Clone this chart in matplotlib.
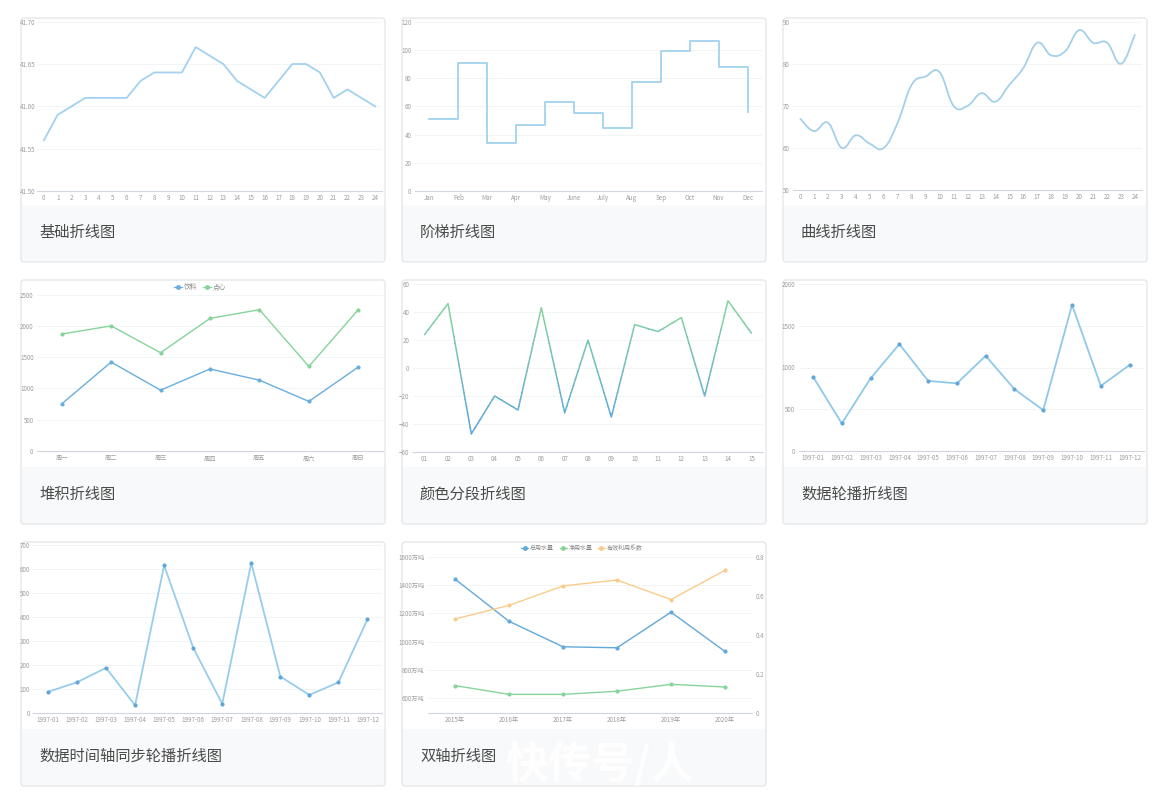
import numpy as np
import matplotlib
matplotlib.use('Agg')
import matplotlib.pyplot as plt
from matplotlib.patches import FancyBboxPatch, Rectangle, PathPatch
from matplotlib.path import Path
from matplotlib.lines import Line2D
from matplotlib.transforms import Bbox, TransformedBbox
from matplotlib.colors import to_rgb

plt.rcParams['font.family'] = ['Noto Sans CJK SC', 'DejaVu Sans']

W, H = 1162, 798

# ---------------- data ----------------
titles = ['基础折线图', '阶梯折线图', '曲线折线图',
          '堆积折线图', '颜色分段折线图', '数据轮播折线图',
          '数据时间轴同步轮播折线图', '双轴折线图']

basic_x = [str(i) for i in range(25)]
basic_y = [41.56, 41.59, 41.60, 41.61, 41.61, 41.61, 41.61, 41.63, 41.64, 41.64,
           41.64, 41.67, 41.66, 41.65, 41.63, 41.62, 41.61, 41.63, 41.65, 41.65,
           41.64, 41.61, 41.62, 41.61, 41.60]

step_x = ['Jan', 'Feb', 'Mar', 'Apr', 'May', 'June', 'July', 'Aug', 'Sep', 'Oct', 'Nov', 'Dec']
step_y = [51, 91, 34, 47, 63, 55, 45, 77, 99, 106, 88, 56]

curve_x = [str(i) for i in range(25)]
curve_y = [67, 64, 66, 60, 63, 61, 60, 66, 75, 77, 78, 70, 70, 73, 71, 75, 79, 85,
           82, 83, 88, 85, 85, 80, 87]

stack_x = ['周一', '周二', '周三', '周四', '周五', '周六', '周日']
stack_drink = [750, 1420, 970, 1310, 1130, 790, 1340]
stack_snack = [1120, 580, 600, 810, 1130, 560, 920]
stack_names = ['饮料', '点心']

seg_x = ['%02d' % i for i in range(1, 16)]
seg_y = [24, 46, -47, -20, -30, 43, -32, 20, -35, 31, 26, 36, -20, 48, 25]

months = ['1997-%02d' % i for i in range(1, 13)]
carousel_y = [890, 330, 870, 1280, 840, 810, 1140, 740, 490, 1750, 780, 1030]
timeline_y = [88, 128, 188, 32, 615, 272, 38, 625, 152, 75, 128, 390]

dual_x = ['2015年', '2016年', '2017年', '2018年', '2019年', '2020年']
dual_total = [1442, 1144, 964, 957, 1208, 931]
dual_net = [690, 628, 628, 650, 699, 680]
dual_coef = [0.48, 0.55, 0.65, 0.68, 0.58, 0.73]
dual_names = ['总用水量', '净用水量', '有效利用系数']

# ---------------- figure ----------------
fig = plt.figure(figsize=(W / 100, H / 100), dpi=100)
fig.patch.set_facecolor('white')
bg = fig.add_axes([0, 0, 1, 1])
bg.set_xlim(0, W)
bg.set_ylim(H, 0)
bg.axis('off')

card_xs = [21, 402, 783]
card_ys = [18, 280, 542]
CW, CH = 364, 244
FOOT = 187

for k, t in enumerate(titles):
    cx = card_xs[k % 3]
    cy = card_ys[k // 3]
    bg.add_patch(Rectangle((cx, cy), CW, CH, facecolor='white', edgecolor='none'))
    bg.add_patch(Rectangle((cx, cy + FOOT), CW, CH - FOOT, facecolor='#f8f9fa', edgecolor='none'))
    bg.add_patch(FancyBboxPatch((cx, cy), CW, CH, boxstyle='round,pad=0,rounding_size=3',
                                facecolor='none', edgecolor='#e3e5e8', linewidth=0.9))
    bg.text(cx + 18, cy + 214, t, fontsize=11, color='#4a4a4a', va='center', ha='left')

TICK_FS = 4.5


def make_ax(x0, y0, x1, y1):
    ax = fig.add_axes([x0 / W, 1 - y1 / H, (x1 - x0) / W, (y1 - y0) / H])
    ax.patch.set_alpha(0)
    for s in ['top', 'right', 'left']:
        ax.spines[s].set_visible(False)
    ax.spines['bottom'].set_color('#d0d6de')
    ax.spines['bottom'].set_linewidth(0.8)
    ax.tick_params(axis='both', length=0, labelsize=TICK_FS, labelcolor='#9d9d9d', pad=2.5)
    ax.grid(axis='y', color='#f1f2f4', linewidth=0.6)
    ax.set_axisbelow(True)
    return ax


def set_cat(ax, labels):
    n = len(labels)
    ax.set_xticks(range(n))
    ax.set_xticklabels(labels)
    ax.set_xlim(-0.5, n - 0.5)


def smooth_path(xs, ys, k=0.2):
    P = np.column_stack([xs, ys]).astype(float)
    n = len(P)
    verts = [tuple(P[0])]
    codes = [Path.MOVETO]
    for i in range(n - 1):
        p0 = P[max(i - 1, 0)]
        p1 = P[i]
        p2 = P[i + 1]
        p3 = P[min(i + 2, n - 1)]
        c1 = p1 + (p2 - p0) * k
        c2 = p2 - (p3 - p1) * k
        verts += [tuple(c1), tuple(c2), tuple(p2)]
        codes += [Path.CURVE4] * 3
    return Path(verts, codes)


light_blue = '#a2d2ef'

# 1 basic
ax = make_ax(37, 21.7, 382, 191)
set_cat(ax, basic_x)
ax.plot(range(len(basic_y)), basic_y, color=light_blue, lw=1.3)
ax.set_ylim(41.50, 41.70)
ax.set_yticks(np.arange(41.50, 41.701, 0.05))
ax.set_yticklabels(['%.2f' % v for v in np.arange(41.50, 41.701, 0.05)])
ax.tick_params(axis='y', pad=1)

# 2 step
ax = make_ax(415, 21.7, 762, 191)
set_cat(ax, step_x)
ax.plot(range(len(step_y)), step_y, color=light_blue, lw=1.3, drawstyle='steps-post')
ax.set_ylim(0, 120)
ax.set_yticks(range(0, 121, 20))

# 3 curve
ax = make_ax(793, 21.7, 1142, 190)
set_cat(ax, curve_x)
ax.add_patch(PathPatch(smooth_path(range(len(curve_y)), curve_y), facecolor='none',
                       edgecolor='#a4d0ea', lw=1.3))
ax.set_ylim(50, 90)
ax.set_yticks(range(50, 91, 10))

# 4 stacked
ax = make_ax(37, 294.7, 383, 450.7)
set_cat(ax, stack_x)
c_blue, c_green = '#6aaedb', '#86d49a'
top = np.array(stack_drink) + np.array(stack_snack)
ax.plot(range(7), stack_drink, color=c_blue, lw=1.0, marker='o', ms=2, mfc=c_blue, mec=c_blue)
ax.plot(range(7), top, color=c_green, lw=1.0, marker='o', ms=2, mfc=c_green, mec=c_green)
ax.set_ylim(0, 2500)
ax.set_yticks(range(0, 2501, 500))
handles = [Line2D([], [], color=c, marker='o', ms=2.5, lw=0.9) for c in (c_blue, c_green)]
ax.legend(handles, stack_names, loc='center', bbox_to_anchor=(200 / W, 1 - 287 / H),
          bbox_transform=fig.transFigure, ncol=2, frameon=False, fontsize=4.8,
          handlelength=1.2, handletextpad=0.3, columnspacing=0.9, labelcolor='#888888')

# 5 color segments
ax = make_ax(413, 284, 763, 452)
set_cat(ax, seg_x)
ax.set_ylim(-60, 60)
ax.set_yticks(range(-60, 61, 20))
cb = np.array(to_rgb('#5ea7da'))
cg = np.array(to_rgb('#86d3a2'))
edges = np.linspace(-60, 60, 49)
for lo, hi in zip(edges[:-1], edges[1:]):
    mid = (lo + hi) / 2
    f = np.clip((mid + 40) / 80, 0, 1)
    col = cb * (1 - f) + cg * f
    ln, = ax.plot(range(len(seg_y)), seg_y, color=col, lw=1.1)
    ln.set_clip_box(TransformedBbox(Bbox([[-0.5, lo - 0.2], [len(seg_y) - 0.5, hi + 0.2]]), ax.transData))

# 6 carousel
ax = make_ax(798.6, 284, 1144, 451)
set_cat(ax, months)
ax.plot(range(12), carousel_y, color='#8fc9ea', lw=1.3, marker='o', ms=2.0, mfc='#62a6d8', mec='#62a6d8')
ax.set_ylim(0, 2000)
ax.set_yticks(range(0, 2001, 500))

# 7 timeline
ax = make_ax(33.4, 545, 382, 713)
set_cat(ax, months)
ax.plot(range(12), timeline_y, color='#97cdec', lw=1.3, marker='o', ms=2.0, mfc='#62a6d8', mec='#62a6d8')
ax.set_ylim(0, 700)
ax.set_yticks(range(0, 701, 100))

# 8 dual axis
ax = make_ax(428, 556.7, 752, 712.5)
set_cat(ax, dual_x)
ax.set_ylim(500, 1600)
ax.set_yticks(range(600, 1601, 200))
ax.set_yticklabels(['%d万吨' % v for v in range(600, 1601, 200)])
ax2 = ax.twinx()
for s in ax2.spines.values():
    s.set_visible(False)
ax2.set_ylim(0, 0.8)
ax2.set_yticks([0, 0.2, 0.4, 0.6, 0.8])
ax2.set_yticklabels(['0', '0.2', '0.4', '0.6', '0.8'])
ax2.tick_params(axis='y', length=0, labelsize=TICK_FS, labelcolor='#9d9d9d', pad=2.5)
d_blue, d_green, d_orange = '#62a9d9', '#86d49a', '#f8cd8c'
ax.plot(range(6), dual_total, color=d_blue, lw=1.0, marker='o', ms=2, mfc=d_blue, mec=d_blue)
ax.plot(range(6), dual_net, color=d_green, lw=1.0, marker='o', ms=2, mfc=d_green, mec=d_green)
ax2.plot(range(6), dual_coef, color=d_orange, lw=1.0, marker='o', ms=2, mfc=d_orange, mec=d_orange)
handles = [Line2D([], [], color=c, marker='o', ms=2.5, lw=0.9) for c in (d_blue, d_green, d_orange)]
ax.legend(handles, dual_names, loc='center', bbox_to_anchor=(582 / W, 1 - 548 / H),
          bbox_transform=fig.transFigure, ncol=3, frameon=False, fontsize=4.3,
          handlelength=1.2, handletextpad=0.3, columnspacing=0.9, labelcolor='#888888')

# watermark
fig.text(505 / W, 1 - 765 / H, '快传号/人', fontsize=31, color='white', alpha=0.95,
         ha='left', va='center', fontweight='bold', zorder=10)

fig.savefig('out.png', dpi=100, facecolor='white')
